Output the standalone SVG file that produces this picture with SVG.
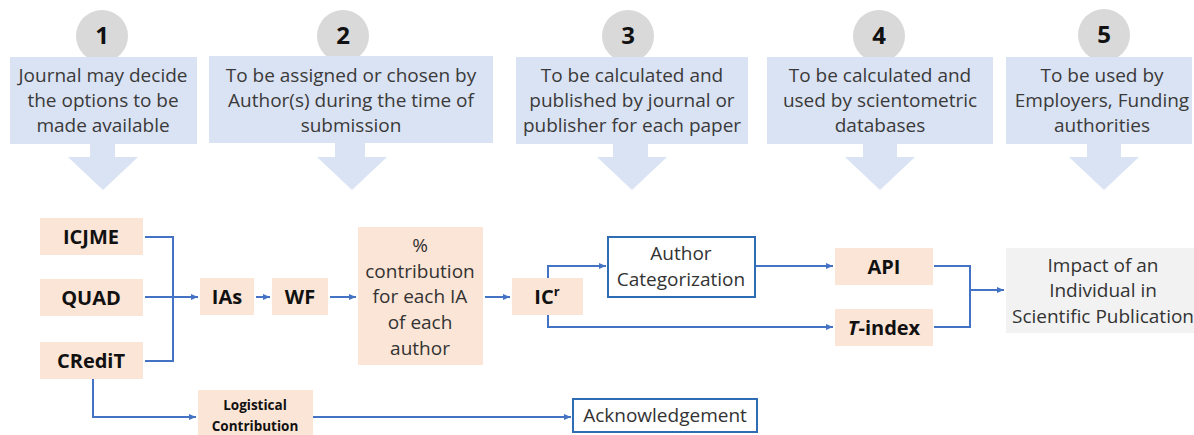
<svg xmlns="http://www.w3.org/2000/svg" width="1194" height="435" viewBox="0 0 1194 435">
<style>
.circ{fill:#d9d9d9}
.num{font-family:"Open Sans","Liberation Sans",sans-serif;font-weight:bold;font-size:24px;fill:#111;text-anchor:middle}
.call{fill:#dae3f3}
.ctext{font-family:"Open Sans","Liberation Sans",sans-serif;font-size:19px;fill:#3a3a3a;text-anchor:middle}
.peach{fill:#fbe5d6}
.btext{font-family:"Open Sans","Liberation Sans",sans-serif;font-weight:bold;font-size:20px;fill:#111;text-anchor:middle}
.stext{font-family:"Open Sans","Liberation Sans",sans-serif;font-weight:bold;font-size:13.5px;fill:#111;text-anchor:middle}
.rtext{font-family:"Open Sans","Liberation Sans",sans-serif;font-size:19px;fill:#333;text-anchor:middle}
.wbox{fill:#fff;stroke:#2e6db4;stroke-width:2}
.gbox{fill:#f2f2f2}
.conn{fill:none;stroke:#4472c4;stroke-width:2}
</style>
<defs>
<marker id="ah" markerWidth="8" markerHeight="8" refX="7" refY="4" orient="auto" markerUnits="userSpaceOnUse">
<path d="M0,1 L7,4 L0,7 Z" fill="#4472c4"/>
</marker>
</defs>

<g id="step1">
<circle class="circ" cx="102" cy="36" r="26"/>
<text class="num" x="102" y="44">1</text>
<rect class="call" x="10" y="57" width="187" height="87"/>
<path class="call" d="M90,144 H115 V157 H138 L103,190 L68,157 H90 Z"/>
<text class="ctext" x="103" y="82">Journal may decide</text>
<text class="ctext" x="103" y="107">the options to be</text>
<text class="ctext" x="103" y="132">made available</text>
</g>

<g id="step2">
<circle class="circ" cx="343" cy="36" r="26"/>
<text class="num" x="343" y="44">2</text>
<rect class="call" x="209" y="56" width="284" height="87"/>
<path class="call" d="M335,143 H365 V157 H387 L352,190 L317,157 H335 Z"/>
<text class="ctext" x="351" y="82">To be assigned or chosen by</text>
<text class="ctext" x="351" y="107">Author(s) during the time of</text>
<text class="ctext" x="351" y="132">submission</text>
</g>

<g id="step3">
<circle class="circ" cx="628" cy="36" r="26"/>
<text class="num" x="628" y="44">3</text>
<rect class="call" x="516" y="57" width="232" height="87"/>
<path class="call" d="M613,144 H648 V157 H667 L632,190 L597,157 H613 Z"/>
<text class="ctext" x="632" y="82">To be calculated and</text>
<text class="ctext" x="632" y="107">published by journal or</text>
<text class="ctext" x="632" y="132">publisher for each paper</text>
</g>

<g id="step4">
<circle class="circ" cx="879" cy="36" r="26"/>
<text class="num" x="879" y="44">4</text>
<rect class="call" x="767" y="57" width="226" height="87"/>
<path class="call" d="M863,144 H897 V157 H915 L880,190 L845,157 H863 Z"/>
<text class="ctext" x="880" y="82">To be calculated and</text>
<text class="ctext" x="880" y="107">used by scientometric</text>
<text class="ctext" x="880" y="132">databases</text>
</g>

<g id="step5">
<circle class="circ" cx="1104" cy="35" r="26"/>
<text class="num" x="1104" y="43">5</text>
<rect class="call" x="1006" y="57" width="186" height="87"/>
<path class="call" d="M1087,144 H1121 V157 H1139 L1104,190 L1069,157 H1087 Z"/>
<text class="ctext" x="1102" y="82">To be used by</text>
<text class="ctext" x="1102" y="107">Employers, Funding</text>
<text class="ctext" x="1102" y="132">authorities</text>
</g>

<g id="connectors">
<path class="conn" d="M145,237 H173 V361 H145"/>
<path class="conn" d="M145,297 H198" marker-end="url(#ah)"/>
<path class="conn" d="M256,297 H270" marker-end="url(#ah)"/>
<path class="conn" d="M330,297 H356" marker-end="url(#ah)"/>
<path class="conn" d="M485,297 H510" marker-end="url(#ah)"/>
<path class="conn" d="M548,278 V266 H606" marker-end="url(#ah)"/>
<path class="conn" d="M548,315 V327 H833" marker-end="url(#ah)"/>
<path class="conn" d="M756,266 H833" marker-end="url(#ah)"/>
<path class="conn" d="M934,266 H970 V327 H934"/>
<path class="conn" d="M970,290 H1004" marker-end="url(#ah)"/>
<path class="conn" d="M93,379 V417 H196" marker-end="url(#ah)"/>
<path class="conn" d="M313,417 H571" marker-end="url(#ah)"/>
</g>

<g id="icjme">
<rect class="peach" x="40" y="218" width="103" height="37"/>
<text class="btext" x="91" y="244">ICJME</text>
</g>
<g id="quad">
<rect class="peach" x="40" y="279" width="103" height="37"/>
<text class="btext" x="91" y="305">QUAD</text>
</g>
<g id="credit">
<rect class="peach" x="40" y="342" width="103" height="37"/>
<text class="btext" x="91" y="368">CRediT</text>
</g>
<g id="ias">
<rect class="peach" x="200" y="278" width="54" height="37"/>
<text class="btext" x="227" y="304">IAs</text>
</g>
<g id="wf">
<rect class="peach" x="272" y="278" width="56" height="37"/>
<text class="btext" x="300" y="304">WF</text>
</g>
<g id="contribution">
<rect class="peach" x="358" y="227" width="125" height="138"/>
<text class="rtext" x="420" y="252">%</text>
<text class="rtext" x="420" y="278">contribution</text>
<text class="rtext" x="420" y="303">for each IA</text>
<text class="rtext" x="420" y="329">of each</text>
<text class="rtext" x="420" y="355">author</text>
</g>
<g id="icr">
<rect class="peach" x="512" y="278" width="71" height="37"/>
<text class="btext" x="547" y="304">IC<tspan style="font-size:13px" dy="-8">r</tspan></text>
</g>
<g id="author-cat">
<rect class="wbox" x="608" y="237" width="147" height="60"/>
<text class="rtext" x="681" y="260">Author</text>
<text class="rtext" x="681" y="286">Categorization</text>
</g>
<g id="api">
<rect class="peach" x="835" y="248" width="98" height="37"/>
<text class="btext" x="884" y="274">API</text>
</g>
<g id="tindex">
<rect class="peach" x="835" y="309" width="98" height="37"/>
<text class="btext" x="884" y="335"><tspan style="font-style:italic">T</tspan>-index</text>
</g>
<g id="impact">
<rect class="gbox" x="1006" y="248" width="188" height="85"/>
<text class="rtext" x="1103" y="272">Impact of an</text>
<text class="rtext" x="1103" y="297">Individual in</text>
<text class="rtext" x="1103" y="323">Scientific Publication</text>
</g>
<g id="logistical">
<rect class="peach" x="198" y="390" width="115" height="45"/>
<text class="stext" x="255" y="410">Logistical</text>
<text class="stext" x="255" y="431">Contribution</text>
</g>
<g id="acknowledgement">
<rect class="wbox" x="573" y="399" width="184" height="33"/>
<text class="rtext" x="665" y="422">Acknowledgement</text>
</g>
</svg>
